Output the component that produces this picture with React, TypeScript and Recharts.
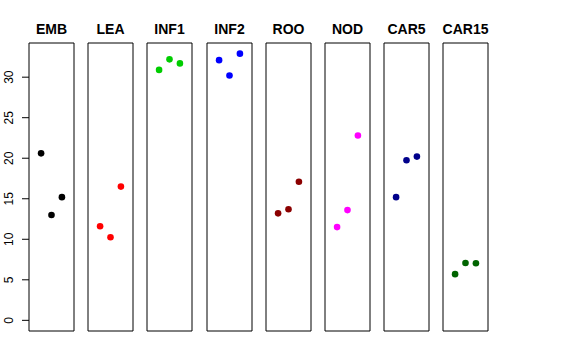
import React from 'react';
import { ScatterChart, Scatter, XAxis, YAxis, ReferenceArea } from 'recharts';

const categories = ['EMB', 'LEA', 'INF1', 'INF2', 'ROO', 'NOD', 'CAR5', 'CAR15'];
const replicates = [1, 2, 3];
const embValues = [20.6, 13.0, 15.2];
const leaValues = [11.6, 10.25, 16.5];
const inf1Values = [30.9, 32.2, 31.7];
const inf2Values = [32.1, 30.2, 32.9];
const rooValues = [13.2, 13.7, 17.1];
const nodValues = [11.5, 13.6, 22.8];
const car5Values = [15.2, 19.75, 20.2];
const car15Values = [5.7, 7.07, 7.04];
const seriesValues = [embValues, leaValues, inf1Values, inf2Values, rooValues, nodValues, car5Values, car15Values];
const colors = ['#000000', '#FF0000', '#00CD00', '#0000FF', '#8B0000', '#FF00FF', '#00008B', '#006400'];
const yTicks = [0, 5, 10, 15, 20, 25, 30];

const yMax = 32.9;
const yDomain: [number, number] = [-0.04 * yMax, yMax * 1.04];
const xDomain: [number, number] = [-0.16, 4.16];

const FONT = '"Liberation Sans", Arial, Helvetica, sans-serif';
const PANEL_W = 45;
const STEP = 59.2;
const FIRST_LEFT = 29;
const TOP = 43;
const BOTTOM_MARGIN = 29;
const H = 360;

const YTick = (props: any) => {
  const { y, payload } = props;
  const x = 13;
  return (
    <text
      x={x}
      y={y}
      transform={`rotate(-90, ${x}, ${y})`}
      textAnchor="middle"
      fontFamily={FONT}
      fontSize={12}
      fill="#000"
    >
      {payload.value}
    </text>
  );
};

function Panel({ index }: { index: number }) {
  const first = index === 0;
  const data = replicates.map((r, i) => ({ x: r, y: seriesValues[index][i] }));
  const color = colors[index];
  const sideMargin = 7;
  const marginLeft = first ? 0 : sideMargin;
  const yAxisW = first ? FIRST_LEFT : 0;
  const left = first ? 0 : FIRST_LEFT + STEP * index - sideMargin;
  const width = marginLeft + yAxisW + PANEL_W + sideMargin;
  return (
    <div style={{ position: 'absolute', left, top: 0 }}>
      <ScatterChart
        width={width}
        height={H}
        margin={{ top: TOP, bottom: BOTTOM_MARGIN, left: marginLeft, right: sideMargin }}
      >
        <XAxis type="number" dataKey="x" domain={xDomain} hide allowDataOverflow />
        {first ? (
          <YAxis
            type="number"
            dataKey="y"
            domain={yDomain}
            ticks={yTicks}
            width={yAxisW}
            tickSize={7}
            axisLine={false}
            tickLine={{ stroke: '#000' }}
            tick={<YTick />}
            allowDataOverflow
          />
        ) : (
          <YAxis type="number" dataKey="y" domain={yDomain} hide allowDataOverflow />
        )}
        <ReferenceArea
          x1={xDomain[0]}
          x2={xDomain[1]}
          y1={yDomain[0]}
          y2={yDomain[1]}
          fill="none"
          fillOpacity={0}
          stroke="#000"
          strokeWidth={1}
          ifOverflow="visible"
          label={{
            value: categories[index],
            position: 'top',
            offset: 9,
            fontFamily: FONT,
            fontSize: 14,
            fontWeight: 'bold',
            fill: '#000',
          }}
        />
        <Scatter
          data={data}
          isAnimationActive={false}
          shape={(p: any) => <circle cx={p.cx} cy={p.cy} r={3.3} fill={color} />}
        />
      </ScatterChart>
    </div>
  );
}

export default function App() {
  return (
    <div style={{ position: 'absolute', left: 0, top: 0, width: 576, height: 360, background: '#fff' }}>
      {categories.map((c, i) => (
        <Panel key={c} index={i} />
      ))}
    </div>
  );
}
